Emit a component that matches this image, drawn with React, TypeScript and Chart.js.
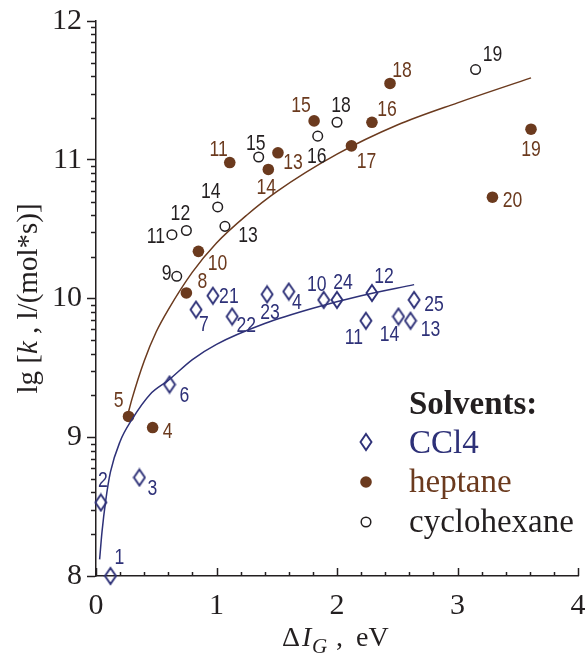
import React, { useEffect, useRef } from 'react';
import { Chart, registerables } from 'chart.js';

Chart.register(...registerables);

const NAVY = '#2e3178';
const BROWN = '#6b3a1e';
const DARK = '#231f20';

// ---- Data: CCl4 ----
const ccl4Labels = ['1', '2', '3', '6', '7', '21', '22', '23', '4', '10', '24', '12', '11', '14', '13', '25'];
const ccl4X = [0.12, 0.04, 0.36, 0.61, 0.83, 0.97, 1.13, 1.42, 1.60, 1.89, 2.00, 2.29, 2.24, 2.51, 2.61, 2.64];
const ccl4Y = [8.00, 8.53, 8.71, 9.38, 9.92, 10.02, 9.87, 10.03, 10.05, 9.99, 9.99, 10.04, 9.84, 9.87, 9.84, 9.99];

// ---- Data: heptane ----
const heptLabels = ['5', '4', '8', '10', '11', '14', '13', '15', '17', '16', '18', '20', '19'];
const heptX = [0.27, 0.47, 0.75, 0.85, 1.11, 1.43, 1.51, 1.81, 2.12, 2.29, 2.44, 3.29, 3.61];
const heptY = [9.15, 9.07, 10.04, 10.34, 10.98, 10.93, 11.05, 11.28, 11.10, 11.27, 11.55, 10.73, 11.22];

// ---- Data: cyclohexane ----
const cycLabels = ['9', '11', '12', '13', '14', '15', '16', '18', '19'];
const cycX = [0.67, 0.63, 0.75, 1.07, 1.01, 1.35, 1.84, 2.00, 3.15];
const cycY = [10.16, 10.46, 10.49, 10.52, 10.66, 11.02, 11.17, 11.27, 11.65];

// ---- Fitted curves ----
const heptCurveX = [0.26, 0.3, 0.4, 0.5, 0.6, 0.8, 1.0, 1.25, 1.5, 2.0, 2.5, 3.0, 3.61];
const heptCurveY = [9.15, 9.28, 9.55, 9.76, 9.92, 10.19, 10.40, 10.60, 10.77, 11.04, 11.25, 11.41, 11.59];
const ccl4CurveX = [0.03, 0.05, 0.08, 0.12, 0.2, 0.3, 0.45, 0.6, 0.8, 1.0, 1.4, 1.8, 2.2, 2.64];
const ccl4CurveY = [8.12, 8.32, 8.54, 8.75, 8.97, 9.13, 9.31, 9.41, 9.56, 9.67, 9.82, 9.93, 10.02, 10.10];

// ---- Axis ticks ----
const xTickValues = [0, 1, 2, 3, 4];
const yTickValues = [8, 9, 10, 11, 12];

// ---- Layout of point annotations (label centre offset from marker, px) ----
const ccl4LabelOffsets = [[9, -18], [2, -22], [13, 11], [15, 11], [8, 15], [16, 1], [14, 9], [3, 19], [8, 11], [-7, -15], [6, -17], [12, -16], [-12, 17], [-9, 18], [20, 9], [20, 5]];
const heptLabelOffsets = [[-10, -16], [15, 4], [16, -11], [19, 13], [-11, -13], [-2, 18], [15, 10], [-13, -15], [15, 16], [15, -12], [12, -13], [20, 4], [0, 21]];
const cycLabelOffsets = [[-10, -2], [-16, 2], [-6, -17], [23, 10], [-7, -15], [-3, -13], [-1, 21], [4, -16], [17, -15]];

const SERIF = '"Liberation Serif", "Times New Roman", serif';
const LABEL_FONT = '22px "Liberation Sans", Arial, sans-serif';

function makeDiamond(color: string) {
  const c = document.createElement('canvas');
  c.width = 14;
  c.height = 20;
  const g = c.getContext('2d')!;
  g.strokeStyle = color;
  g.lineWidth = 1.9;
  g.beginPath();
  g.moveTo(7, 2);
  g.lineTo(12.5, 10);
  g.lineTo(7, 18);
  g.lineTo(1.5, 10);
  g.closePath();
  g.stroke();
  return c;
}

const pts = (xs: number[], ys: number[]) => xs.map((x, i) => ({ x, y: ys[i] }));

export default function App() {
  const ref = useRef<HTMLCanvasElement | null>(null);

  useEffect(() => {
    document.body.style.margin = '0';
    const canvas = ref.current!;
    const diamond = makeDiamond(NAVY);

    const extras = {
      id: 'extras',
      afterDraw(chart: any) {
        const ctx = chart.ctx as CanvasRenderingContext2D;
        const xs = chart.scales.x;
        const ys = chart.scales.y;
        const area = chart.chartArea;

        // x-axis tick marks (pointing inwards)
        ctx.save();
        ctx.setLineDash([]);
        ctx.globalAlpha = 1;
        ctx.strokeStyle = DARK;
        ctx.lineWidth = 1.5;
        for (let i = 0; i <= 20; i++) {
          const px = Math.round(xs.getPixelForValue(i * 0.2)) + 0.5;
          const len = i % 5 === 0 ? 8 : 4;
          ctx.beginPath();
          ctx.moveTo(px, area.bottom);
          ctx.lineTo(px, area.bottom - len);
          ctx.stroke();
        }
        // y-axis minor (logarithmic) tick marks
        for (const k of yTickValues) {
          if (k >= 12) continue;
          for (let n = 2; n <= 9; n++) {
            const mp = Math.round(ys.getPixelForValue(k + Math.log10(n))) + 0.5;
            ctx.beginPath();
            ctx.moveTo(area.left, mp);
            ctx.lineTo(area.left - 5, mp);
            ctx.stroke();
          }
        }
        ctx.restore();

        ctx.save();
        // point labels (condensed sans)
        ctx.font = LABEL_FONT;
        ctx.textAlign = 'center';
        ctx.textBaseline = 'middle';
        const drawLabels = (dsIndex: number, labels: string[], offs: number[][], color: string) => {
          const meta = chart.getDatasetMeta(dsIndex);
          ctx.fillStyle = color;
          meta.data.forEach((el: any, i: number) => {
            ctx.save();
            ctx.translate(el.x + offs[i][0], el.y + offs[i][1]);
            ctx.scale(0.8, 1);
            ctx.fillText(labels[i], 0, 0);
            ctx.restore();
          });
        };
        drawLabels(2, ccl4Labels, ccl4LabelOffsets, NAVY);
        drawLabels(3, heptLabels, heptLabelOffsets, BROWN);
        drawLabels(4, cycLabels, cycLabelOffsets, DARK);

        // legend
        const lx = area.left + 313;
        const sx = area.left + 270;
        ctx.textAlign = 'left';
        ctx.textBaseline = 'alphabetic';
        ctx.font = `bold 33px ${SERIF}`;
        ctx.fillStyle = DARK;
        ctx.fillText('Solvents:', lx, 414);
        ctx.font = `33px ${SERIF}`;
        ctx.fillStyle = NAVY;
        ctx.fillText('CCl4', lx, 453);
        ctx.drawImage(diamond, sx - 7, 442 - 10);
        ctx.fillStyle = BROWN;
        ctx.fillText('heptane', lx, 492);
        ctx.beginPath();
        ctx.arc(sx, 482, 5.8, 0, Math.PI * 2);
        ctx.fill();
        ctx.fillStyle = DARK;
        ctx.fillText('cyclohexane', lx, 532);
        ctx.beginPath();
        ctx.strokeStyle = DARK;
        ctx.lineWidth = 1.5;
        ctx.arc(sx, 522, 4.8, 0, Math.PI * 2);
        ctx.stroke();

        // x title: ΔI_G ,  eV
        const start = (area.left + area.right) / 2 - 55;
        const base = 646;
        ctx.fillStyle = DARK;
        ctx.font = `28px ${SERIF}`;
        ctx.fillText('\u0394', start, base);
        ctx.font = `italic 28px ${SERIF}`;
        ctx.fillText('I', start + 20, base);
        ctx.font = `italic 21px ${SERIF}`;
        ctx.fillText('G', start + 30, base + 7);
        ctx.font = `28px ${SERIF}`;
        ctx.fillText(',', start + 54, base);
        ctx.fillText('eV', start + 74, base);

        // y title
        const yParts: [string, string][] = [
          ['lg [', `29px ${SERIF}`],
          ['k', `italic 29px ${SERIF}`],
          [' , l/(mol*s)]', `29px ${SERIF}`],
        ];
        ctx.translate(29, (area.top + area.bottom) / 2);
        ctx.rotate(-Math.PI / 2);
        ctx.textBaseline = 'middle';
        let total = 0;
        for (const [t, f] of yParts) { ctx.font = f; total += ctx.measureText(t).width; }
        let cx = -total / 2;
        for (const [t, f] of yParts) {
          ctx.font = f;
          ctx.fillText(t, cx, 0);
          cx += ctx.measureText(t).width;
        }
        ctx.restore();
      },
    };

    const zeroPad = (scale: any) => {
      scale.paddingLeft = 0;
      scale.paddingRight = 0;
      scale.paddingTop = 0;
      scale.paddingBottom = 0;
    };

    const chart = new Chart(canvas, {
      type: 'scatter',
      data: {
        datasets: [
          {
            label: 'heptane fit',
            data: pts(heptCurveX, heptCurveY),
            showLine: true,
            borderColor: BROWN,
            borderWidth: 1.5,
            pointRadius: 0,
            cubicInterpolationMode: 'monotone',
            clip: false,
          } as any,
          {
            label: 'CCl4 fit',
            data: pts(ccl4CurveX, ccl4CurveY),
            showLine: true,
            borderColor: NAVY,
            borderWidth: 1.5,
            pointRadius: 0,
            cubicInterpolationMode: 'monotone',
            clip: false,
          } as any,
          {
            label: 'CCl4',
            data: pts(ccl4X, ccl4Y),
            pointStyle: diamond,
            pointRadius: 6,
            borderColor: NAVY,
            backgroundColor: NAVY,
            clip: false,
          } as any,
          {
            label: 'heptane',
            data: pts(heptX, heptY),
            pointStyle: 'circle',
            pointRadius: 5.8,
            borderWidth: 0,
            backgroundColor: BROWN,
            borderColor: BROWN,
            clip: false,
          } as any,
          {
            label: 'cyclohexane',
            data: pts(cycX, cycY),
            pointStyle: 'circle',
            pointRadius: 4.8,
            borderWidth: 1.5,
            backgroundColor: 'rgba(0,0,0,0)',
            borderColor: DARK,
            clip: false,
          } as any,
        ],
      },
      options: {
        responsive: false,
        animation: false,
        layout: { padding: { left: 0, right: 6, top: 21, bottom: 0 } },
        plugins: { legend: { display: false }, tooltip: { enabled: false } },
        scales: {
          x: {
            type: 'linear',
            min: 0,
            max: 4,
            afterBuildTicks: (s: any) => { s.ticks = xTickValues.map((v) => ({ value: v })); },
            ticks: { font: { family: SERIF, size: 30 }, color: DARK, padding: 12, maxRotation: 0 },
            grid: { display: false, drawTicks: false },
            border: { display: true, color: DARK, width: 1.5 },
            afterFit: (s: any) => { s.height = 81; zeroPad(s); },
          },
          y: {
            type: 'linear',
            min: 8,
            max: 12,
            afterBuildTicks: (s: any) => { s.ticks = yTickValues.map((v) => ({ value: v })); },
            ticks: { font: { family: SERIF, size: 30 }, color: DARK, padding: 5 },
            grid: {
              display: true,
              drawOnChartArea: false,
              drawTicks: true,
              tickLength: 9,
              tickColor: DARK,
              tickWidth: 1.5,
              color: DARK,
            },
            border: { display: true, color: DARK, width: 1.5 },
            afterFit: (s: any) => { s.width = 96; zeroPad(s); },
          },
        },
      } as any,
      plugins: [extras],
    });
    return () => chart.destroy();
  }, []);

  return <canvas ref={ref} width={585} height={657} style={{ display: 'block' }} />;
}
